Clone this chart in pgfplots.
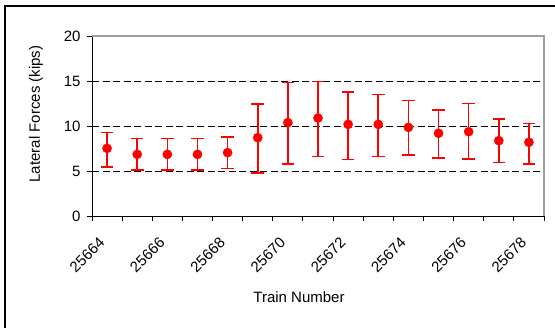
\documentclass[border=0pt]{standalone}
\usepackage{pgfplots}
\pgfplotsset{compat=1.18}
\usepackage{pgfplotstable}
\usepackage{fontspec}
\setmainfont{Liberation Sans}

% Lateral force per train: mean with upper and lower extent
\pgfplotstableread{
x  y      hi     lo
1  7.52   9.26   5.44
2  6.85   8.60   5.10
3  6.85   8.60   5.10
4  6.85   8.60   5.10
5  7.04   8.78   5.26
6  8.70   12.44  4.78
7  10.37  14.82  5.78
8  10.89  14.96  6.59
9  10.18  13.81  6.26
10 10.18  13.48  6.59
11 9.85   12.82  6.78
12 9.19   11.81  6.44
13 9.37   12.48  6.30
14 8.37   10.78  5.93
15 8.19   10.26  5.78
}\forcedata

\newcommand\chartfont{\fontsize{15}{17}\selectfont}

\begin{document}
\begin{tikzpicture}
\useasboundingbox (0pt,0pt) rectangle (555pt,328pt);
% chart frame
\draw[line width=2pt] (5pt,-10pt) -- (5pt,322pt) -- (570pt,322pt);

\begin{axis}[
  at={(92pt,112pt)}, anchor=south west,
  width=452pt, height=180pt, scale only axis,
  xmin=0.5, xmax=15.5, ymin=0, ymax=20,
  axis x line*=bottom, axis y line*=left,
  axis line style={black, line width=0.9pt},
  tick align=outside,
  major tick length=5pt,
  xtick={0.5,1.5,...,15.5}, xticklabels={},
  extra x ticks={1,3,...,15},
  extra x tick labels={25664,25666,25668,25670,25672,25674,25676,25678},
  extra x tick style={major tick length=0pt, grid=none,
    tick label style={xshift=-9pt, yshift=-20pt, rotate=45,
      anchor=north east, inner sep=0pt, font=\chartfont}},
  ytick={0,5,10,15,20},
  ymajorgrids,
  y grid style={black, dash pattern=on 7pt off 3.5pt, line width=0.8pt},
  tick style={black, line width=0.9pt},
  tick label style={font=\chartfont},
  yticklabel style={xshift=-3pt},
  /pgf/number format/assume math mode=true,
  clip=false,
  after end axis/.code={
    \draw[gray!75, line width=1.3pt] (rel axis cs:0,1) -- (rel axis cs:1,1) -- (rel axis cs:1,0);
  },
]
\addplot+[only marks, red, mark=*, mark size=4.6pt,
  mark options={fill=red, draw=red},
  error bars/.cd, y dir=both, y explicit,
  error bar style={red, line width=1.6pt},
  error mark options={rotate=90, mark size=6.3pt, line width=1.6pt, red}]
  table[x=x, y=y,
    y error plus expr={\thisrow{hi}-\thisrow{y}},
    y error minus expr={\thisrow{y}-\thisrow{lo}}] {\forcedata};
\end{axis}

\node[font=\chartfont] at (299pt,31pt) {Train Number};
\node[font=\chartfont, rotate=90] at (36pt,214pt) {Lateral Forces (kips)};
\end{tikzpicture}
\end{document}
